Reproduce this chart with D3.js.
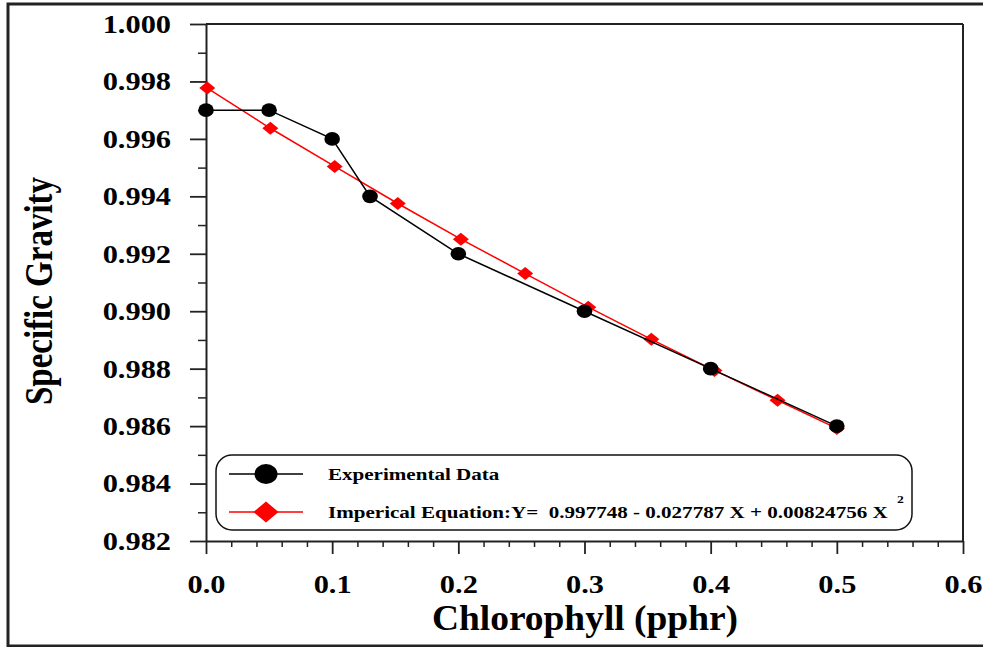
<!DOCTYPE html>
<html>
<head>
<meta charset="utf-8">
<script src="https://cdn.jsdelivr.net/npm/d3@7"></script>
<style>
  body { margin: 0; background: #fff; }
  svg { display: block; }
  text { font-family: "Liberation Serif", "Times New Roman", serif; font-weight: bold; fill: #000; }
</style>
</head>
<body>
<div id="chart"></div>
<script>

// experimental data
var expX = [0, 0.05, 0.1, 0.13, 0.2, 0.3, 0.4, 0.5];
var expY = [0.997, 0.997, 0.996, 0.994, 0.992, 0.990, 0.988, 0.986];

// imperical equation points
var eqX = [0.001, 0.051, 0.102, 0.152, 0.202, 0.253, 0.303, 0.353, 0.403, 0.453, 0.5];
var eqY = [0.99777, 0.99637, 0.99504, 0.99375, 0.99251, 0.99131, 0.99014, 0.98902, 0.98794, 0.98690, 0.98592];

var xTicks = [0, 0.1, 0.2, 0.3, 0.4, 0.5, 0.6];
var yTicks = [0.982, 0.984, 0.986, 0.988, 0.990, 0.992, 0.994, 0.996, 0.998, 1.000];

var legendLabels = ["Experimental Data", "Imperical Equation:Y=  0.997748 - 0.027787 X + 0.00824756 X"];

var W = 983, H = 647;
var SX = 1.24; // the original picture is stretched sideways

var svg = d3.select("#chart").append("svg")
    .attr("width", W)
    .attr("height", H);

// outer frame
svg.append("rect")
    .attr("x", 8).attr("y", 4)
    .attr("width", 995).attr("height", 642)
    .attr("fill", "none")
    .attr("stroke", "#222")
    .attr("stroke-width", 3);

var x = d3.scaleLinear().domain([0, 0.6]).range([206, 963]);
var y = d3.scaleLinear().domain([0.982, 1.0]).range([541, 24]);

function stretchText(sel) {
  sel.each(function() {
    var t = d3.select(this);
    var tx = +t.attr("x") || 0;
    var ty = +t.attr("y") || 0;
    t.attr("x", 0).attr("y", 0)
      .attr("transform", "translate(" + tx + "," + ty + ") scale(" + SX + ",1)");
  });
}

// top and right lines
svg.append("line")
    .attr("x1", x(0)).attr("x2", x(0.6))
    .attr("y1", y(1.0)).attr("y2", y(1.0))
    .attr("stroke", "#222").attr("stroke-width", 2);
svg.append("line")
    .attr("x1", x(0.6)).attr("x2", x(0.6))
    .attr("y1", y(1.0)).attr("y2", y(0.982))
    .attr("stroke", "#222").attr("stroke-width", 2);

// y axis, minor then major
var yMinor = d3.range(0.983, 1.0, 0.002);
svg.append("g")
    .attr("transform", "translate(" + x(0) + ",0)")
    .call(d3.axisLeft(y).tickValues(yMinor).tickSize(8).tickSizeOuter(0).tickFormat(""))
    .call(function(g) { g.select(".domain").remove(); })
    .selectAll("line").attr("stroke", "#222").attr("stroke-width", 1.5);

var yAxis = svg.append("g")
    .attr("transform", "translate(" + x(0) + ",0)")
    .call(d3.axisLeft(y).tickValues(yTicks).tickSize(16).tickSizeOuter(0).tickPadding(19)
      .tickFormat(d3.format(".3f")));
yAxis.select(".domain").attr("stroke", "#222").attr("stroke-width", 2);
yAxis.selectAll(".tick line").attr("stroke", "#222").attr("stroke-width", 1.8);
yAxis.selectAll("text")
    .attr("font-size", 24.5)
    .attr("dy", "0.34em")
    .call(stretchText);

// x axis
var xMinor = d3.range(0.02, 0.6, 0.02).filter(function(d) { return Math.abs(d * 10 - Math.round(d * 10)) > 0.01; });
svg.append("g")
    .attr("transform", "translate(0," + y(0.982) + ")")
    .call(d3.axisBottom(x).tickValues(xMinor).tickSize(6).tickSizeOuter(0).tickFormat(""))
    .call(function(g) { g.select(".domain").remove(); })
    .selectAll("line").attr("stroke", "#222").attr("stroke-width", 1.5);

var xAxis = svg.append("g")
    .attr("transform", "translate(0," + y(0.982) + ")")
    .call(d3.axisBottom(x).tickValues(xTicks).tickSize(13).tickSizeOuter(0)
      .tickFormat(d3.format(".1f")));
xAxis.select(".domain").attr("stroke", "#222").attr("stroke-width", 2);
xAxis.selectAll(".tick line").attr("stroke", "#222").attr("stroke-width", 1.8);
xAxis.selectAll("text")
    .attr("font-size", 24.5)
    .attr("y", 52)
    .attr("dy", 0)
    .call(stretchText);

// axis titles
svg.append("text")
    .attr("text-anchor", "middle")
    .attr("font-size", 35)
    .attr("transform", "translate(585,630) scale(1.07,1)")
    .text("Chlorophyll (pphr)");

svg.append("text")
    .attr("text-anchor", "middle")
    .attr("font-size", 33)
    .attr("transform", "translate(52,291) scale(" + SX + ",1) rotate(-90)")
    .text("Specific Gravity");

// series
var eqData = eqX.map(function(d, i) { return [d, eqY[i]]; });
var expData = expX.map(function(d, i) { return [d, expY[i]]; });

var line = d3.line()
    .x(function(d) { return x(d[0]); })
    .y(function(d) { return y(d[1]); });

function diamond(w, h) {
  return "M0," + (-h) + "L" + w + ",0L0," + h + "L" + (-w) + ",0Z";
}

svg.append("path")
    .datum(eqData)
    .attr("d", line)
    .attr("fill", "none")
    .attr("stroke", "#ff0000")
    .attr("stroke-width", 1.5);

svg.selectAll("path.eq")
    .data(eqData)
  .enter().append("path")
    .attr("class", "eq")
    .attr("transform", function(d) { return "translate(" + x(d[0]) + "," + y(d[1]) + ")"; })
    .attr("d", diamond(8, 6.5))
    .attr("fill", "#ff0000");

svg.append("path")
    .datum(expData)
    .attr("d", line)
    .attr("fill", "none")
    .attr("stroke", "#000")
    .attr("stroke-width", 1.5);

svg.selectAll("ellipse.exp")
    .data(expData)
  .enter().append("ellipse")
    .attr("class", "exp")
    .attr("cx", function(d) { return x(d[0]); })
    .attr("cy", function(d) { return y(d[1]); })
    .attr("rx", 7.8)
    .attr("ry", 6.8)
    .attr("fill", "#000");

// legend
var legend = svg.append("g");
legend.append("rect")
    .attr("x", 216).attr("y", 455)
    .attr("width", 696).attr("height", 75)
    .attr("rx", 16).attr("ry", 16)
    .attr("fill", "#fff")
    .attr("stroke", "#111")
    .attr("stroke-width", 1.5);

var legY = [474, 512];
legend.append("line")
    .attr("x1", 229).attr("x2", 303)
    .attr("y1", legY[0]).attr("y2", legY[0])
    .attr("stroke", "#000").attr("stroke-width", 1.5);
legend.append("ellipse")
    .attr("cx", 266).attr("cy", legY[0])
    .attr("rx", 11.5).attr("ry", 10)
    .attr("fill", "#000");

legend.append("line")
    .attr("x1", 229).attr("x2", 303)
    .attr("y1", legY[1]).attr("y2", legY[1])
    .attr("stroke", "#ff0000").attr("stroke-width", 1.5);
legend.append("path")
    .attr("transform", "translate(266," + legY[1] + ")")
    .attr("d", diamond(12.5, 10.5))
    .attr("fill", "#ff0000");

legend.selectAll("text.leg")
    .data(legendLabels)
  .enter().append("text")
    .attr("class", "leg")
    .attr("x", 328)
    .attr("y", function(d, i) { return legY[i] + 6; })
    .attr("font-size", 17)
    .style("white-space", "pre")
    .text(function(d) { return d; })
    .call(stretchText);

legend.append("text")
    .attr("x", 897)
    .attr("y", 503)
    .attr("font-size", 11)
    .text("2")
    .call(stretchText);

</script>
</body>
</html>
